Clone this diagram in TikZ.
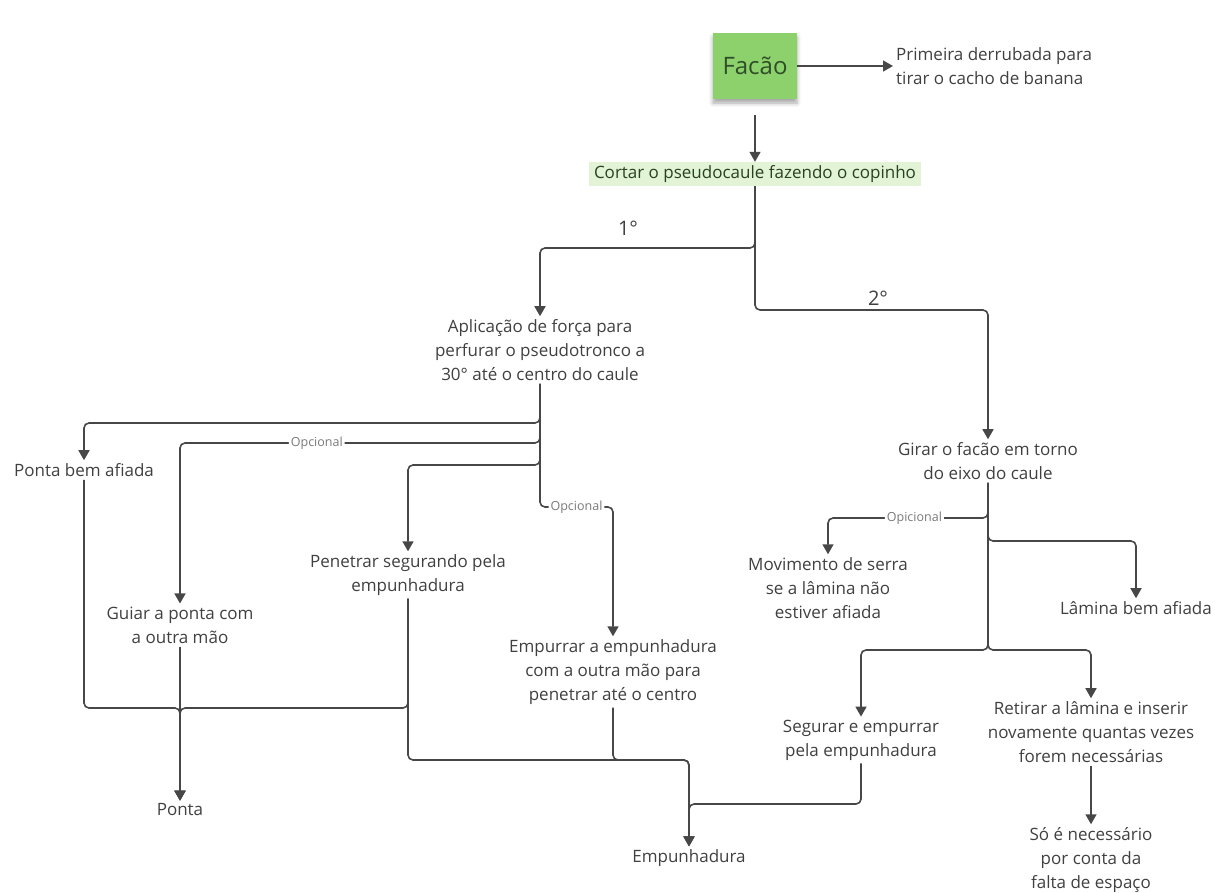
\documentclass[tikz,border=0pt]{standalone}
\usepackage{fontspec}
\setmainfont{Open Sans}
\usetikzlibrary{arrows.meta,shadows.blur}

\definecolor{linegray}{HTML}{474747}
\definecolor{txtgray}{HTML}{404040}
\definecolor{boxgreen}{HTML}{8DD16D}
\definecolor{darkgreen}{HTML}{2E4D28}
\definecolor{lightgreen}{HTML}{E2F3D6}
\definecolor{optgray}{HTML}{7A7A7A}

\tikzset{
    txt/.style={text=txtgray, font=\fontsize{17}{24}\selectfont, align=center, inner sep=3pt},
    arr/.style={draw=linegray, line width=1.6pt, rounded corners=5pt, -{Triangle[length=10pt,width=11pt]}},
    opt/.style={fill=white, text=optgray, font=\fontsize{12.5}{14}\selectfont, inner sep=2pt},
    num/.style={text=txtgray, font=\fontsize{20}{22}\selectfont},
}

\begin{document}
\begin{tikzpicture}[x=1pt,y=-1pt]
    \useasboundingbox (0,0) rectangle (1215,892);

    % top
    \node[fill=boxgreen, minimum width=84pt, minimum height=66pt, text=darkgreen,
          font=\fontsize{24}{28}\selectfont,
          blur shadow={shadow xshift=0pt, shadow yshift=-4pt, shadow blur radius=4pt, shadow opacity=35}] (facao) at (755,66) {Facão};
    \node[txt, align=left, anchor=west] (prim) at (893,66) {Primeira derrubada para\\tirar o cacho de banana};
    \node[txt, fill=lightgreen, text=darkgreen!85!black, minimum height=24pt, inner ysep=2pt, inner xsep=5pt] (cortar) at (755,174) {Cortar o pseudocaule fazendo o copinho};

    % left branch
    \node[txt] (aplic) at (540,350) {Aplicação de força para\\perfurar o pseudotronco a\\30° até o centro do caule};
    \node[txt] (pba) at (84,470) {Ponta bem afiada};
    \node[txt] (guiar) at (180,625) {Guiar a ponta com\\a outra mão};
    \node[txt] (penetr) at (408,575) {Penetrar segurando pela\\empunhadura};
    \node[txt] (empurr) at (613,672) {Empurrar a empunhadura\\com a outra mão para\\penetrar até o centro};
    \node[txt] (ponta) at (180,810) {Ponta};
    \node[txt] (empunh) at (689,858) {Empunhadura};

    % right branch
    \node[txt] (girar) at (988,461) {Girar o facão em torno\\do eixo do caule};
    \node[txt] (movim) at (828,588) {Movimento de serra\\se a lâmina não\\estiver afiada};
    \node[txt] (lamina) at (1136,608) {Lâmina bem afiada};
    \node[txt] (segurar) at (861,740) {Segurar e empurrar\\pela empunhadura};
    \node[txt] (retirar) at (1091,732) {Retirar a lâmina e inserir\\novamente quantas vezes\\forem necessárias};
    \node[txt] (so) at (1091,860) {Só é necessário\\por conta da\\falta de espaço};

    \node[num] (n1) at (628,228) {1°};
    \node[num] (n2) at (878,298) {2°};

    % junctions
    \coordinate (c1) at (755,248);
    \coordinate (c2) at (755,310);
    \coordinate (a1) at (540,423);
    \coordinate (a2) at (540,443);
    \coordinate (a3) at (540,465);
    \coordinate (a4) at (540,507);
    \coordinate (p1) at (180,708);
    \coordinate (e1) at (689,760);
    \coordinate (e2) at (689,804);
    \coordinate (g1) at (988,518);
    \coordinate (g2) at (988,541);
    \coordinate (g3) at (988,650);

    \draw[arr] (facao.east) -- (prim.west);
    \draw[arr, shorten <=16pt] (facao) -- (cortar);
    \draw[arr] (cortar) -- (c1) -| (aplic);
    \draw[arr] (cortar) -- (c2) -| (girar);

    \draw[arr] (aplic) -- (a1) -| (pba);
    \draw[arr] (aplic) -- (a2) -| node[opt, pos=0.31] {Opcional} (guiar);
    \draw[arr] (aplic) -- (a3) -| (penetr);
    \draw[arr] (aplic) -- (a4) -| node[opt, pos=0.25] {Opcional} (empurr);

    \draw[arr] (pba) |- (p1) -- (ponta);
    \draw[arr] (penetr) |- (p1) -- (ponta);
    \draw[arr] (guiar) -- (ponta);
    \draw[arr] (penetr) |- (e1) -- (empunh);
    \draw[arr] (empurr) |- (e1) -- (empunh);
    \draw[arr] (segurar) |- (e2) -- (empunh);

    \draw[arr] (girar) -- (g1) -| node[opt, pos=0.23] {Opicional} (movim);
    \draw[arr] (girar) -- (g2) -| (lamina);
    \draw[arr] (girar) -- (g3) -| (segurar);
    \draw[arr] (girar) -- (g3) -| (retirar);
    \draw[arr] (retirar) -- (so);
\end{tikzpicture}
\end{document}
